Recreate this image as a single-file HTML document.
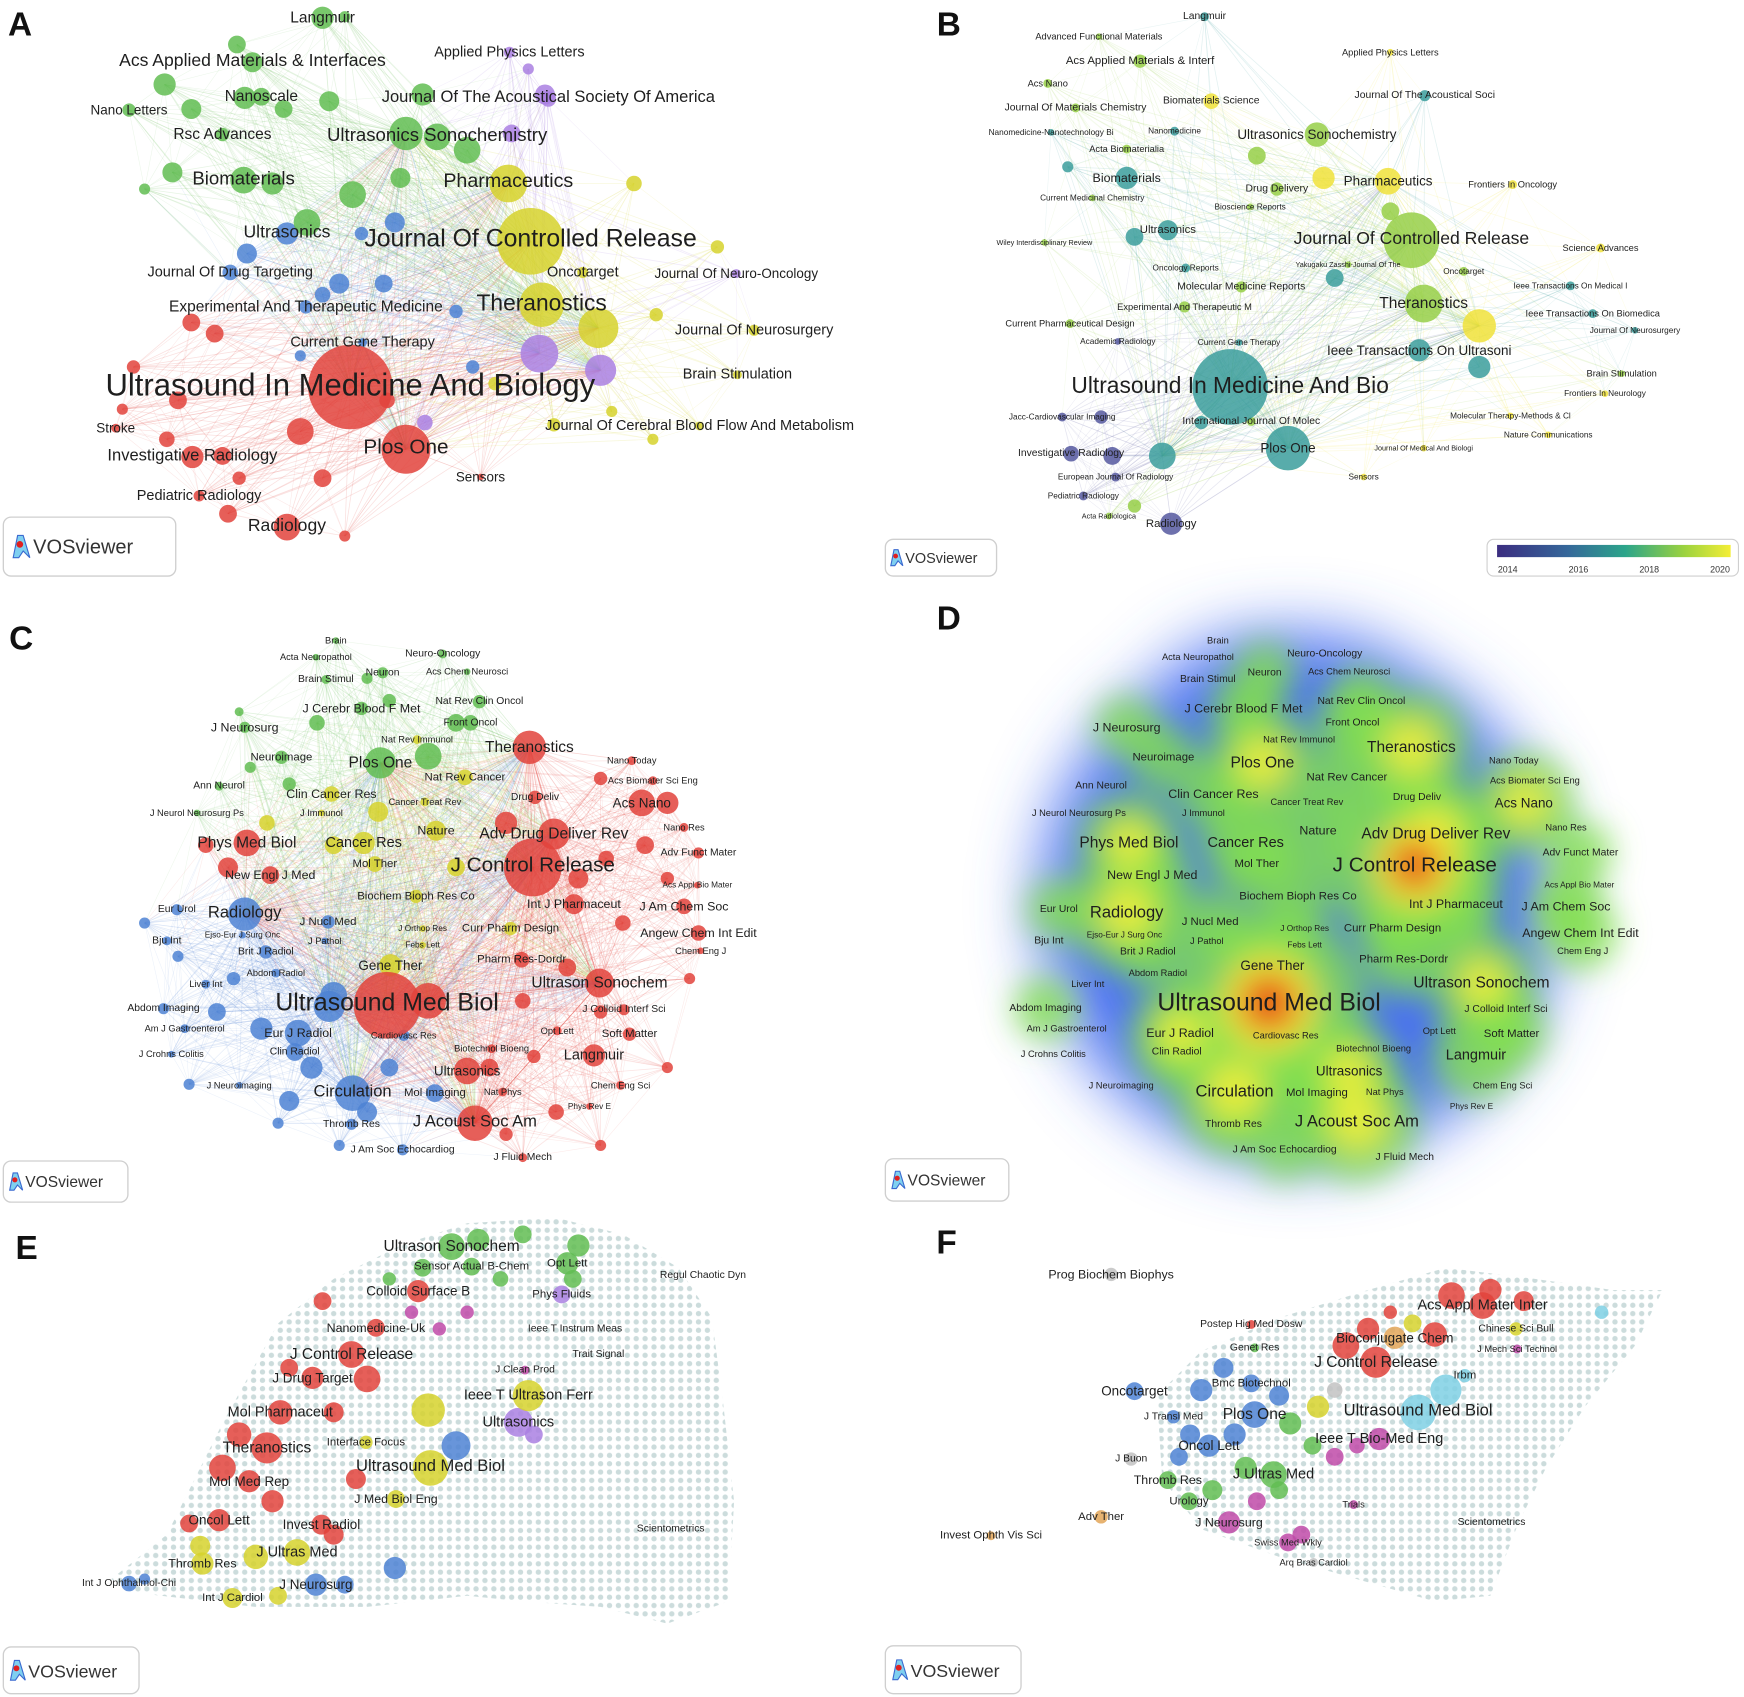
<!DOCTYPE html>
<html><head><meta charset="utf-8"><title>VOSviewer maps</title>
<style>
html,body{margin:0;padding:0;background:#fff;}
svg{display:block;font-family:"Liberation Sans",sans-serif;}
.lbl{fill:#1e1e1e;text-anchor:middle;dominant-baseline:central;}
.plet{font-weight:bold;font-size:30px;fill:#111;}
</style></head>
<body>
<svg id="fig" width="1744" height="1697" viewBox="0 0 1568 1526" preserveAspectRatio="none" xmlns="http://www.w3.org/2000/svg">
<defs>
<pattern id="dots" width="8" height="7.5" patternUnits="userSpaceOnUse"><circle cx="4" cy="3.7" r="2.4" fill="#c3d6d6"/></pattern>
<filter id="blur1" x="-50%" y="-50%" width="200%" height="200%"><feGaussianBlur stdDeviation="30"/></filter>
<filter id="blur2" x="-50%" y="-50%" width="200%" height="200%"><feGaussianBlur stdDeviation="14"/></filter>
<linearGradient id="yearGrad" x1="0" x2="1" y1="0" y2="0">
<stop offset="0" stop-color="#3b2d80"/><stop offset="0.3" stop-color="#35679a"/><stop offset="0.55" stop-color="#2ca58a"/><stop offset="0.8" stop-color="#9bd23f"/><stop offset="1" stop-color="#f4ee36"/></linearGradient>
</defs>
<g id="layer-edges"></g>
<g id="layer-heat"></g>
<g id="layer-nodes"></g>
<g id="layer-labels"></g>
<g id="layer-ui"></g>
</svg>
<script>
// ---------- data ----------
const COL={r:'#e2433c',g:'#62bd52',b:'#4d82d4',y:'#d6d22d',p:'#aa80e2',c:'#7fd0e4',m:'#c04aa8',o:'#e3a658',t:'#3b9e9c',l:'#97cf48',k:'#f0e23b',v:'#55589f'};
const labelsA=[["Langmuir",290,16,15,'g',10],["Acs Applied Materials & Interfaces",227,54,17,'g',9],["Applied Physics Letters",458,47,14,'p',5],["Nano Letters",116,99,13,'g',6],["Nanoscale",235,87,15,'g',8],["Journal Of The Acoustical Society Of America",493,87,16,'p',7],["Rsc Advances",200,121,15,'g',6],["Ultrasonics Sonochemistry",393,121,18,'g',12],["Biomaterials",219,160,18,'g',12],["Pharmaceutics",457,163,19,'y',17],["Ultrasonics",258,208,17,'b',10],["Journal Of Controlled Release",477,215,24,'y',30],["Journal Of Drug Targeting",207,245,14,'b',7],["Oncotarget",524,245,14,'y',5],["Journal Of Neuro-Oncology",662,246,13,'p',4],["Experimental And Therapeutic Medicine",275,276,15,'b',6],["Theranostics",487,272,22,'y',20],["Journal Of Neurosurgery",678,297,14,'y',5],["Current Gene Therapy",326,308,14,'b',4],["Brain Stimulation",663,337,14,'y',4],["Ultrasound In Medicine And Biology",315,346,30,'r',38],["Stroke",104,385,13,'r',4],["Journal Of Cerebral Blood Flow And Metabolism",629,383,14,'y',4],["Investigative Radiology",173,409,16,'r',10],["Plos One",365,402,20,'r',22],["Sensors",432,429,13,'r',3],["Pediatric Radiology",179,446,14,'r',5],["Radiology",258,472,17,'r',12]];
const nodesA=[[538,295,18,'y'],[485,318,17,'p'],[540,333,14,'p'],[590,283,6,'y'],[570,165,7,'y'],[645,222,6,'y'],[310,15,5,'g'],[148,76,10,'g'],[220,88,10,'g'],[296,91,9,'g'],[172,98,9,'g'],[155,155,9,'g'],[255,98,8,'g'],[380,85,10,'g'],[420,135,12,'g'],[360,160,9,'g'],[213,40,8,'g'],[245,165,10,'g'],[130,170,5,'g'],[355,200,9,'b'],[325,210,6,'b'],[305,255,9,'b'],[290,265,7,'b'],[345,255,8,'b'],[410,280,6,'b'],[270,320,5,'b'],[425,330,6,'b'],[222,228,9,'b'],[193,300,8,'r'],[172,290,8,'r'],[120,330,6,'r'],[110,368,5,'r'],[160,360,8,'r'],[150,395,7,'r'],[270,388,12,'r'],[200,410,8,'r'],[290,430,8,'r'],[215,430,6,'r'],[205,462,8,'r'],[310,482,5,'r'],[348,360,7,'r'],[445,345,6,'y'],[498,382,6,'y'],[550,370,5,'y'],[587,395,5,'y'],[475,62,5,'p'],[490,85,9,'p'],[460,120,8,'p'],[382,380,7,'p'],[365,120,15,'g'],[317,175,12,'g'],[276,200,12,'g']];
const labelsB=[["Langmuir",1083,15,10,'t',4],["Advanced Functional Materials",988,33,9,'l',3],["Acs Applied Materials & Interf",1025,55,11,'l',6],["Applied Physics Letters",1250,47,9,'k',3],["Acs Nano",942,75,9,'l',4],["Journal Of The Acoustical Soci",1281,86,10,'t',5],["Journal Of Materials Chemistry",967,97,10,'l',4],["Biomaterials Science",1089,91,10,'k',7],["Nanomedicine-Nanotechnology Bi",945,119,8,'t',3],["Nanomedicine",1056,118,8,'t',4],["Ultrasonics Sonochemistry",1184,121,13,'l',11],["Acta Biomaterialia",1013,134,9,'l',4],["Biomaterials",1013,160,12,'t',10],["Pharmaceutics",1248,163,13,'k',12],["Frontiers In Oncology",1360,166,9,'k',4],["Drug Delivery",1148,170,10,'l',6],["Current Medicinal Chemistry",982,178,8,'l',3],["Bioscience Reports",1124,186,8,'l',3],["Ultrasonics",1050,207,11,'t',9],["Journal Of Controlled Release",1269,214,17,'l',25],["Science Advances",1439,223,9,'k',4],["Wiley Interdisciplinary Review",939,218,7,'l',3],["Yakugaku Zasshi-Journal Of The",1212,238,7,'l',3],["Oncology Reports",1066,241,8,'t',4],["Oncotarget",1316,244,8,'l',4],["Molecular Medicine Reports",1116,258,10,'l',5],["Ieee Transactions On Medical I",1412,257,8,'t',4],["Theranostics",1280,273,15,'l',17],["Experimental And Therapeutic M",1065,276,9,'l',5],["Ieee Transactions On Biomedica",1432,282,9,'t',4],["Current Pharmaceutical Design",962,291,9,'l',4],["Journal Of Neurosurgery",1470,297,8,'t',3],["Academic Radiology",1005,307,8,'v',3],["Current Gene Therapy",1114,308,8,'t',3],["Ieee Transactions On Ultrasoni",1276,315,13,'t',10],["Brain Stimulation",1458,336,9,'l',3],["Ultrasound In Medicine And Bio",1106,346,22,'t',34],["Frontiers In Neurology",1443,354,8,'k',3],["Jacc-Cardiovascular Imaging",955,375,8,'v',4],["International Journal Of Molec",1125,379,10,'l',4],["Molecular Therapy-Methods & Cl",1358,374,8,'k',3],["Nature Communications",1392,391,8,'k',3],["Investigative Radiology",963,408,10,'v',7],["Plos One",1158,403,13,'t',20],["Journal Of Medical And Biologi",1280,403,7,'k',3],["European Journal Of Radiology",1003,429,8,'v',4],["Sensors",1226,429,8,'k',3],["Pediatric Radiology",974,446,8,'v',4],["Acta Radiologica",997,464,7,'l',3],["Radiology",1053,471,11,'v',10]];
const nodesB=[[1330,293,15,'k'],[1045,410,12,'t'],[1190,160,10,'k'],[1130,140,8,'l'],[1000,410,8,'v'],[1020,213,8,'t'],[1200,250,8,'t'],[1330,330,10,'t'],[990,375,6,'v'],[1020,455,6,'l'],[1080,380,6,'t'],[960,150,5,'t'],[1250,190,8,'l']];
const labelsC=[["Brain",302,576,9,'g',3],["Acta Neuropathol",284,591,9,'g',3],["Neuro-Oncology",398,588,10,'g',4],["Brain Stimul",293,611,10,'g',4],["Neuron",344,605,10,'g',5],["Acs Chem Neurosci",420,604,9,'g',3],["J Cerebr Blood F Met",325,637,12,'g',6],["Nat Rev Clin Oncol",431,631,10,'g',6],["J Neurosurg",220,654,12,'g',5],["Front Oncol",423,650,10,'g',7],["Nat Rev Immunol",375,665,9,'y',4],["Theranostics",476,672,15,'r',15],["Neuroimage",253,681,11,'g',6],["Plos One",342,686,15,'g',14],["Nano Today",568,684,9,'r',4],["Ann Neurol",197,707,10,'g',4],["Nat Rev Cancer",418,699,11,'y',7],["Acs Biomater Sci Eng",587,702,9,'r',4],["Clin Cancer Res",298,714,12,'y',7],["Cancer Treat Rev",382,721,9,'y',4],["Drug Deliv",481,717,10,'r',6],["Acs Nano",577,722,13,'r',12],["J Neurol Neurosurg Ps",177,731,9,'g',3],["J Immunol",289,731,9,'y',3],["Nature",392,747,12,'y',9],["Adv Drug Deliver Rev",498,750,15,'r',14],["Nano Res",615,744,9,'r',4],["Phys Med Biol",222,758,15,'r',12],["Cancer Res",327,758,14,'y',10],["J Control Release",479,778,20,'r',26],["Adv Funct Mater",628,767,10,'r',5],["Mol Ther",337,777,11,'y',7],["New Engl J Med",243,787,12,'r',8],["Acs Appl Bio Mater",627,796,8,'r',3],["Eur Urol",159,818,10,'b',5],["Radiology",220,820,16,'b',15],["Biochem Bioph Res Co",374,806,11,'y',6],["Int J Pharmaceut",516,813,12,'r',9],["J Am Chem Soc",615,815,12,'r',7],["J Nucl Med",295,829,11,'b',6],["Bju Int",150,846,10,'b',4],["Ejso-Eur J Surg Onc",218,841,8,'b',3],["J Orthop Res",380,835,8,'y',3],["Curr Pharm Design",459,835,11,'y',6],["Angew Chem Int Edit",628,839,12,'r',7],["J Pathol",292,846,9,'b',3],["Febs Lett",380,850,8,'y',3],["Brit J Radiol",239,856,10,'b',6],["Chem Eng J",630,855,9,'r',3],["Pharm Res-Dordr",469,863,11,'r',7],["Gene Ther",351,868,13,'y',10],["Abdom Radiol",248,875,9,'b',4],["Liver Int",185,885,9,'b',4],["Ultrason Sonochem",539,884,15,'r',13],["Ultrasound Med Biol",348,902,24,'r',30],["Abdom Imaging",147,907,10,'b',5],["J Colloid Interf Sci",561,908,10,'r',5],["Am J Gastroenterol",166,925,9,'b',4],["Eur J Radiol",268,929,12,'b',12],["Cardiovasc Res",363,931,9,'b',5],["Opt Lett",501,927,9,'r',4],["Soft Matter",566,930,11,'r',6],["Clin Radiol",265,946,10,'b',8],["Biotechnol Bioeng",442,943,9,'r',4],["J Crohns Colitis",154,948,9,'b',3],["Langmuir",534,949,14,'r',10],["Ultrasonics",420,963,13,'r',12],["J Neuroimaging",215,976,9,'b',3],["Chem Eng Sci",558,976,9,'r',4],["Circulation",317,981,16,'b',16],["Mol Imaging",391,983,11,'b',8],["Nat Phys",452,982,9,'r',4],["Phys Rev E",530,995,8,'r',3],["Thromb Res",316,1011,10,'b',5],["J Acoust Soc Am",427,1008,16,'r',16],["J Am Soc Echocardiog",362,1034,10,'b',5],["J Fluid Mech",470,1041,10,'r',4]];
const nodesC=[[385,900,16,'r'],[296,905,14,'b'],[300,895,12,'b'],[455,740,10,'r'],[520,790,9,'r'],[545,772,7,'r'],[600,722,10,'r'],[580,760,8,'r'],[560,830,7,'r'],[510,870,8,'r'],[470,900,7,'r'],[440,960,8,'r'],[480,950,6,'r'],[500,1000,7,'r'],[455,1020,6,'r'],[540,910,6,'r'],[235,925,10,'b'],[195,910,8,'b'],[210,880,6,'b'],[280,960,10,'b'],[260,990,9,'b'],[330,1000,9,'b'],[350,960,8,'b'],[205,780,9,'r'],[185,760,7,'r'],[240,740,7,'y'],[300,760,8,'y'],[340,730,9,'y'],[410,780,8,'y'],[385,680,12,'g'],[410,650,8,'g'],[285,650,7,'g'],[260,705,6,'g'],[350,630,6,'g'],[330,610,5,'g'],[225,690,5,'g'],[215,640,4,'g'],[540,700,6,'r'],[600,790,6,'r'],[620,880,5,'r'],[600,960,5,'r'],[540,1030,5,'r'],[305,1030,5,'b'],[250,1010,5,'b'],[170,975,5,'b'],[160,860,5,'b'],[130,830,5,'b']];
const labelsE=[["Ultrason Sonochem",406,1121,15,'g',12],["Sensor Actual B-Chem",424,1139,11,'g',8],["Opt Lett",510,1136,11,'g',10],["Regul Chaotic Dyn",632,1147,10,'g',0],["Colloid Surface B",376,1161,13,'r',10],["Phys Fluids",505,1164,11,'p',8],["Nanomedicine-Uk",338,1194,12,'r',8],["Ieee T Instrum Meas",517,1195,10,'g',0],["Trait Signal",538,1218,10,'g',0],["J Control Release",316,1218,15,'r',12],["J Clean Prod",472,1232,10,'m',4],["J Drug Target",281,1239,13,'r',10],["Ieee T Ultrason Ferr",475,1255,14,'y',14],["Mol Pharmaceut",252,1270,14,'r',11],["Ultrasonics",466,1279,14,'p',13],["Theranostics",240,1302,15,'r',14],["Interface Focus",329,1297,11,'y',6],["Ultrasound Med Biol",387,1318,16,'y',16],["Mol Med Rep",224,1332,13,'r',10],["J Med Biol Eng",356,1348,12,'y',8],["Oncol Lett",197,1367,13,'r',10],["Invest Radiol",289,1371,13,'r',9],["Scientometrics",603,1375,10,'p',0],["J Ultras Med",267,1396,14,'y',12],["Thromb Res",182,1406,12,'y',10],["Int J Ophthalmol-Chi",116,1424,10,'b',7],["J Neurosurg",284,1425,13,'b',10],["Int J Cardiol",209,1437,11,'y',9]];
const nodesE=[[410,1300,13,'b'],[355,1410,10,'b'],[385,1268,15,'y'],[330,1240,12,'r'],[200,1320,12,'r'],[215,1290,11,'r'],[245,1350,10,'r'],[170,1370,8,'r'],[180,1390,9,'y'],[230,1400,11,'y'],[300,1380,9,'r'],[320,1330,9,'r'],[300,1270,9,'r'],[260,1230,8,'r'],[290,1170,8,'r'],[430,1115,10,'g'],[470,1110,8,'g'],[520,1120,10,'g'],[515,1150,8,'g'],[450,1150,7,'g'],[380,1140,8,'g'],[420,1180,6,'m'],[395,1195,6,'m'],[350,1150,6,'g'],[480,1290,8,'p'],[130,1420,5,'b'],[250,1435,8,'y'],[310,1425,8,'b'],[370,1180,6,'m']];
const labelsF=[["Prog Biochem Biophys",999,1146,12,'gr',6],["Acs Appl Mater Inter",1333,1174,14,'r',12],["Postep Hig Med Dosw",1125,1191,10,'r',4],["Chinese Sci Bull",1363,1195,10,'y',6],["Bioconjugate Chem",1254,1203,13,'o',10],["Genet Res",1128,1212,10,'g',4],["J Mech Sci Technol",1364,1213,9,'m',4],["J Control Release",1237,1225,15,'r',14],["Irbm",1317,1237,11,'c',6],["Bmc Biotechnol",1125,1244,11,'b',8],["Oncotarget",1020,1251,13,'b',8],["Ultrasound Med Biol",1275,1268,16,'c',16],["J Transl Med",1055,1274,10,'b',6],["Plos One",1128,1272,15,'b',12],["Oncol Lett",1087,1300,13,'b',10],["Ieee T Bio-Med Eng",1240,1294,14,'m',10],["J Buon",1017,1312,10,'gr',6],["Thromb Res",1050,1331,12,'g',8],["J Ultras Med",1145,1326,14,'g',12],["Urology",1069,1350,11,'g',8],["Trials",1217,1353,9,'m',4],["J Neurosurg",1105,1369,12,'m',10],["Scientometrics",1341,1369,10,'gr',0],["Adv Ther",990,1364,11,'o',6],["Invest Ophth Vis Sci",891,1381,11,'o',4],["Swiss Med Wkly",1158,1387,9,'m',8],["Arq Bras Cardiol",1181,1405,9,'gr',4]];
const nodesF=[[1300,1250,14,'c'],[1305,1165,12,'r'],[1340,1160,10,'r'],[1370,1170,9,'r'],[1290,1200,11,'r'],[1210,1210,12,'r'],[1230,1195,10,'r'],[1270,1190,8,'y'],[1080,1250,10,'b'],[1100,1230,9,'b'],[1070,1290,9,'b'],[1110,1290,10,'b'],[1150,1255,9,'b'],[1160,1280,10,'g'],[1180,1300,8,'g'],[1120,1320,10,'g'],[1090,1340,9,'g'],[1150,1340,8,'g'],[1200,1310,8,'m'],[1220,1300,7,'m'],[1170,1380,8,'m'],[1130,1350,8,'m'],[1185,1265,10,'y'],[1200,1250,7,'gr'],[1250,1180,6,'r'],[1440,1180,6,'c'],[1060,1310,8,'b']];
const cloudE=[[100,1420],[150,1380],[200,1280],[250,1190],[300,1150],[360,1120],[420,1100],[500,1095],[560,1110],[610,1140],[640,1185],[650,1260],[660,1350],[655,1440],[600,1460],[540,1445],[470,1440],[420,1435],[330,1445],[230,1445],[120,1432]];
const cloudF=[[1040,1255],[1080,1215],[1150,1185],[1230,1160],[1300,1140],[1380,1150],[1450,1160],[1495,1160],[1470,1210],[1425,1265],[1390,1320],[1365,1370],[1340,1435],[1290,1440],[1220,1420],[1150,1400],[1080,1375],[1045,1330]];
const yearTicks=["2014","2016","2018","2020"];
// ---------- drawing ----------
const NS='http://www.w3.org/2000/svg';
const gE=document.getElementById('layer-edges'),gH=document.getElementById('layer-heat'),gN=document.getElementById('layer-nodes'),gL=document.getElementById('layer-labels'),gU=document.getElementById('layer-ui');
function mk(tag,parent,attrs){const e=document.createElementNS(NS,tag);for(const k in attrs)e.setAttribute(k,attrs[k]);parent.appendChild(e);return e;}
function colorOf(k){return k==='gr'?'#c2c2c2':COL[k];}
function allNodes(labels,nodes){const out=[];labels.forEach(l=>{if(l[5]>0)out.push([l[1],l[2]+(l[3]>15?2:0),l[5],l[4]]);});nodes.forEach(n=>out.push(n));return out;}
function drawNetwork(name,labels,nodes,edgeOp,hubMin){
  const all=allNodes(labels,nodes);
  const hubs=all.filter(n=>n[2]>=hubMin);
  const ge=mk('g',gE,{});
  
  
  all.forEach(n=>{hubs.forEach(h=>{if(h===n)return;mk('line',ge,{x1:n[0],y1:n[1],x2:h[0],y2:h[1],stroke:colorOf(n[3]),'stroke-width':0.7,'stroke-opacity':edgeOp});});});
  for(let i=0;i<all.length;i++){for(let j=i+1;j<all.length;j++){const a=all[i],b=all[j];const d=Math.hypot(a[0]-b[0],a[1]-b[1]);if(d<110){mk('line',ge,{x1:a[0],y1:a[1],x2:b[0],y2:b[1],stroke:colorOf(a[3]),'stroke-width':0.5,'stroke-opacity':edgeOp*0.8});}}}
  drawNodes(name,all);
}
function drawNodes(name,all){
  const gn=mk('g',gN,{});
  
  
  all.slice().sort((a,b)=>a[2]-b[2]).forEach(n=>{
    const c=mk('circle',gn,{cx:n[0],cy:n[1],r:n[2],fill:colorOf(n[3]),'fill-opacity':0.85});
    
    
  });
}
function drawLabels(name,labels,dx){
  const g=mk('g',gL,{});
  
  
  labels.forEach(l=>{const t=mk('text',g,{x:l[1]+(dx||0),y:l[2],'font-size':l[3]*0.93,class:'lbl'});t.textContent=l[0];
    
    });
}
drawNetwork('panel-a',labelsA,nodesA,0.16,14);
drawLabels('panel-a',labelsA);
drawNetwork('panel-b',labelsB,nodesB,0.14,12);
drawLabels('panel-b',labelsB);
drawNetwork('panel-c',labelsC,nodesC,0.14,13);
drawLabels('panel-c',labelsC);
// D heatmap
(function(){
  const off=793;
  const g=mk('g',gH,{filter:'url(#blur1)'});
  
  
  mk('ellipse',g,{cx:1168,cy:812,rx:232,ry:232,fill:'#4a70f2'});
  mk('ellipse',g,{cx:1160,cy:615,rx:110,ry:45,fill:'#4a70f2'});
  const g2=mk('g',gH,{filter:'url(#blur2)'});
  
  
  labelsC.forEach(l=>{if(l[5]>=5){mk('circle',g2,{cx:l[1]+off,cy:l[2],r:l[5]*2.4+16,fill:'#82e04e','fill-opacity':0.8});}});
  labelsC.forEach(l=>{if(l[5]>=12){mk('circle',g2,{cx:l[1]+off,cy:l[2],r:l[5]*1.3+6,fill:'#f2f03a','fill-opacity':0.9});}});
  labelsC.forEach(l=>{if(l[5]>=26){mk('circle',g2,{cx:l[1]+off,cy:l[2],r:l[5]*1.0,fill:'#f09020'});mk('circle',g2,{cx:l[1]+off,cy:l[2],r:l[5]*0.55,fill:'#e01010'});}});
  drawLabels('panel-d',labelsC,off);
})();
function drawCloud(name,pts,labels,nodes){
  const p=mk('polygon',gH,{points:pts.map(q=>q.join(',')).join(' '),fill:'url(#dots)','fill-opacity':0.85});
  
  
  drawNodes(name,allNodes(labels,nodes));
  drawLabels(name,labels);
}
drawCloud('panel-e',cloudE,labelsE,nodesE);
drawCloud('panel-f',cloudF,labelsF,nodesF);
[["A",18,32],["B",853,32],["C",19,584],["D",853,566],["E",24,1132],["F",851,1127]].forEach(a=>{const t=mk('text',gU,{x:a[1],y:a[2],class:'plet','text-anchor':'middle'});t.textContent=a[0];
  
  });
[[3,465,155,53,18],[796,485,100,33,13],[3,1044,112,37,14],[796,1042,111,38,14],[3,1481,122,42,16],[796,1480,122,43,16]].forEach((b,i)=>{
  const g=mk('g',gU,{});
  
  
  mk('rect',g,{x:b[0],y:b[1],width:b[2],height:b[3],rx:7,fill:'#fff',stroke:'#cfcfcf','stroke-width':1.2});
  const s=b[4]/18;const ix=b[0]+b[3]*0.28,iy=b[1]+b[3]/2;
  mk('path',g,{d:`M${ix-6*s} ${iy+10*s} L${ix-2*s} ${iy-10*s} L${ix+3*s} ${iy-10*s} L${ix+9*s} ${iy+10*s} L${ix+3*s} ${iy+4*s} L${ix-1*s} ${iy+10*s}Z`,fill:'#7fd0f0',stroke:'#3a6ad0','stroke-width':1});
  mk('circle',g,{cx:ix,cy:iy-2*s,r:3*s,fill:'#e02020'});
  const t=mk('text',g,{x:ix+12*s,y:iy+1,'font-size':b[4],'dominant-baseline':'central',fill:'#333'});t.textContent='VOSviewer';
});
(function(){
  const g=mk('g',gU,{});
  
  
  mk('rect',g,{x:1337,y:485,width:226,height:33,rx:6,fill:'#fff',stroke:'#cfcfcf'});
  const x0=1346,x1=1556;
  mk('rect',g,{x:x0,y:490,width:x1-x0,height:11,fill:'url(#yearGrad)'});
  const yMin=2013.7,yMax=2020.3;
  yearTicks.forEach(v=>{const x=x0+(+v-yMin)/(yMax-yMin)*(x1-x0);const t=mk('text',g,{x:x,y:512,'font-size':8,'text-anchor':'middle','dominant-baseline':'central',fill:'#333'});t.textContent=v;
    
    });
})();
</script>
</body></html>
